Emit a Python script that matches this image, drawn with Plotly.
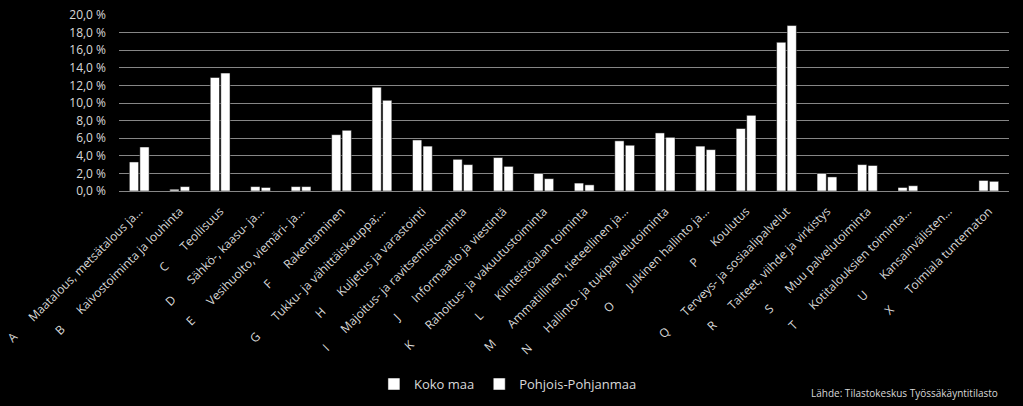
import plotly.graph_objects as go

NBSP = "\u00a0"

letters = ["A", "B", "C", "D", "E", "F", "G", "H", "I", "J", "K",
           "L", "M", "N", "O", "P", "Q", "R", "S", "T", "U", "X"]
names = [
    "Maatalous, metsätalous ja…",
    "Kaivostoiminta ja louhinta",
    "Teollisuus",
    "Sähkö-, kaasu- ja…",
    "Vesihuolto, viemäri- ja…",
    "Rakentaminen",
    "Tukku- ja vähittäiskauppa;…",
    "Kuljetus ja varastointi",
    "Majoitus- ja ravitsemistoiminta",
    "Informaatio ja viestintä",
    "Rahoitus- ja vakuutustoiminta",
    "Kiinteistöalan toiminta",
    "Ammatillinen, tieteellinen ja…",
    "Hallinto- ja tukipalvelutoiminta",
    "Julkinen hallinto ja…",
    "Koulutus",
    "Terveys- ja sosiaalipalvelut",
    "Taiteet, viihde ja virkistys",
    "Muu palvelutoiminta",
    "Kotitalouksien toiminta…",
    "Kansainvälisten…",
    "Toimiala tuntematon",
]

# osuus työllisistä, %
koko_maa = [3.3, 0.2, 12.9, 0.5, 0.5, 6.4, 11.8, 5.8, 3.6, 3.8, 2.0,
            0.9, 5.7, 6.6, 5.1, 7.1, 16.9, 2.0, 3.0, 0.4, 0.0, 1.2]
pohjois_pohjanmaa = [5.0, 0.5, 13.4, 0.4, 0.5, 6.9, 10.3, 5.1, 3.0, 2.8, 1.4,
                     0.7, 5.2, 6.1, 4.7, 8.6, 18.8, 1.6, 2.9, 0.6, 0.0, 1.1]

y_ticks = [0, 2, 4, 6, 8, 10, 12, 14, 16, 18, 20]
y_tick_text = [f"{v:.1f}".replace(".", ",") + " %" for v in y_ticks]

labels = [f"{l}{NBSP * 7}{n}" for l, n in zip(letters, names)]

font_family = "Open Sans, Noto Sans, sans-serif"

fig = go.Figure()
fig.add_trace(go.Bar(x=labels, y=koko_maa, name="Koko maa",
                     marker=dict(color="white", line=dict(color="black", width=0.5))))
fig.add_trace(go.Bar(x=labels, y=pohjois_pohjanmaa, name="Pohjois-Pohjanmaa",
                     marker=dict(color="white", line=dict(color="black", width=0.5))))

fig.add_annotation(text="Lähde: Tilastokeskus Työssäkäyntitilasto",
                   xref="paper", yref="paper", x=0.99, y=-1.148,
                   xanchor="right", yanchor="middle", showarrow=False,
                   font=dict(size=10, color="#d9d9d9", family=font_family))

fig.update_layout(
    width=1023, height=406,
    margin=dict(l=119, r=14, t=15, b=215, autoexpand=False),
    paper_bgcolor="black", plot_bgcolor="black",
    font=dict(family=font_family, color="#d9d9d9", size=11),
    barmode="group", bargap=0.48, bargroupgap=0.12,
    showlegend=True,
    legend=dict(orientation="h", x=0.437, xanchor="center",
                y=-1.097, yanchor="middle", itemwidth=30,
                font=dict(size=13, color="#d9d9d9"), bgcolor="rgba(0,0,0,0)"),
)
fig.update_xaxes(tickangle=-45, showgrid=False, showline=False, ticks="",
                 automargin=False, ticklabelstandoff=10,
                 tickfont=dict(size=12, color="#d9d9d9"))
fig.update_yaxes(range=[0, 20], tickvals=y_ticks, ticktext=y_tick_text,
                 showgrid=True, gridcolor="#868686", gridwidth=1,
                 zeroline=True, zerolinecolor="#868686", zerolinewidth=1,
                 automargin=False, ticklabelstandoff=12,
                 tickfont=dict(size=12, color="#d9d9d9"), ticks="")

# page body has a default 8px margin, drop it so the figure fills the window
fig.write_html("out.html", config={"displayModeBar": False},
               post_script="document.body.style.margin='0';")
